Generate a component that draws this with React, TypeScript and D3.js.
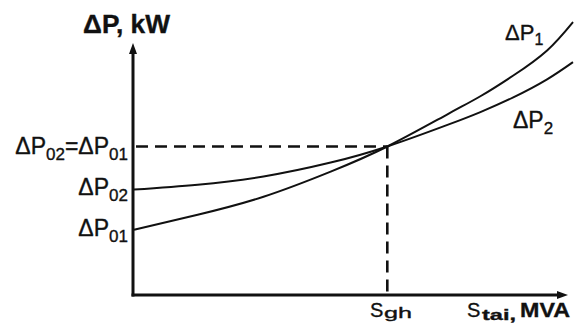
import React from "react";
import { scaleLinear, line, curveNatural } from "d3";

// load S (relative units) and losses for two transformers
const sValues = [0, 14.5, 29.5, 44.8, 57.7, 71.4, 78.9, 86.4, 94.1, 100];
const dP1Values = [23.9, 29.4, 36.0, 45.2, 54.4, 66.2, 72.8, 80.4, 89.6, 100];
const dP2Values = [38.6, 40.4, 43.4, 48.5, 54.4, 62.3, 67.0, 72.4, 79.0, 85.3];

const sGh = 57.7; // crossing point
const dPCross = 54.4;
const dP01 = dP1Values[0];
const dP02 = dP2Values[0];

const FONT = "'Liberation Sans', Arial, sans-serif";
const INK = "#111";

const App = () => {
  const width = 580;
  const height = 330;

  const x = scaleLinear().domain([0, 100]).range([134, 573]);
  const y = scaleLinear().domain([0, 100]).range([295, 22]);

  const x0 = x(0) - 1;
  const y0 = y(0);
  const yTop = 43; // arrow tip of the vertical axis
  const xEnd = 568; // arrow tip of the horizontal axis

  const path = line<number>()
    .x((_, i) => x(sValues[i]))
    .y((d) => y(d))
    .curve(curveNatural);

  // scanned-look text is a bit heavier than plain glyphs
  const txt = { fontFamily: FONT, fill: INK, stroke: INK, strokeWidth: 0.35 } as const;

  return (
    <svg
      width={width}
      height={height}
      style={{ position: "absolute", left: 0, top: 0, background: "#fff" }}
    >
      {/* axes */}
      <line x1={x0} y1={y0 + 1.5} x2={x0} y2={yTop + 8} stroke={INK} strokeWidth={3} />
      <path d={`M${x0},${yTop} L${x0 - 4},${yTop + 11} L${x0 + 4},${yTop + 11} Z`} fill={INK} />
      <line x1={x0 - 1.5} y1={y0} x2={xEnd - 8} y2={y0} stroke={INK} strokeWidth={3} />
      <path d={`M${xEnd},${y0} L${xEnd - 11},${y0 - 4} L${xEnd - 11},${y0 + 4} Z`} fill={INK} />

      {/* guide lines */}
      <line
        x1={x0 + 3}
        y1={y(dPCross)}
        x2={x(sGh)}
        y2={y(dPCross)}
        stroke={INK}
        strokeWidth={2.6}
        strokeDasharray="12,7"
      />
      <line
        x1={x(sGh)}
        y1={y(dPCross)}
        x2={x(sGh)}
        y2={y0}
        stroke={INK}
        strokeWidth={2.6}
        strokeDasharray="12,7"
      />

      {/* curves */}
      <path d={path(dP1Values) || ""} fill="none" stroke={INK} strokeWidth={2} />
      <path d={path(dP2Values) || ""} fill="none" stroke={INK} strokeWidth={2} />

      {/* axis titles */}
      <text x={83} y={33} {...txt} fontSize={25} fontWeight="bold" textLength={87} lengthAdjust="spacingAndGlyphs">
        ΔP, kW
      </text>

      <text x={370} y={317} {...txt} fontSize={20}>S</text>
      <text x={384} y={318} {...txt} fontSize={15} textLength={28} lengthAdjust="spacingAndGlyphs">gh</text>

      <text x={467} y={317} {...txt} fontSize={20}>S</text>
      <text x={482} y={320} {...txt} fontSize={15} fontWeight="bold" textLength={34} lengthAdjust="spacingAndGlyphs">tai,</text>
      <text x={520} y={317} {...txt} fontSize={21} fontWeight="bold" textLength={50} lengthAdjust="spacingAndGlyphs">MVA</text>

      {/* y-side labels */}
      <text x={128} y={y(dPCross) + 8} {...txt} fontSize={23} textAnchor="end">
        ΔP<tspan fontSize={17} dy={6}>02</tspan>
        <tspan dy={-6}>=ΔP</tspan>
        <tspan fontSize={17} dy={6}>01</tspan>
      </text>
      <text x={128} y={y(dP02) + 5} {...txt} fontSize={23} textAnchor="end">
        ΔP<tspan fontSize={17} dy={6}>02</tspan>
      </text>
      <text x={128} y={y(dP01) + 6} {...txt} fontSize={23} textAnchor="end">
        ΔP<tspan fontSize={17} dy={6}>01</tspan>
      </text>

      {/* curve labels */}
      <text x={505} y={40} {...txt} fontSize={22}>
        ΔP<tspan fontSize={16} dy={5}>1</tspan>
      </text>
      <text x={513} y={128} {...txt} fontSize={23}>
        ΔP<tspan fontSize={17} dy={6}>2</tspan>
      </text>
    </svg>
  );
};

export default App;
